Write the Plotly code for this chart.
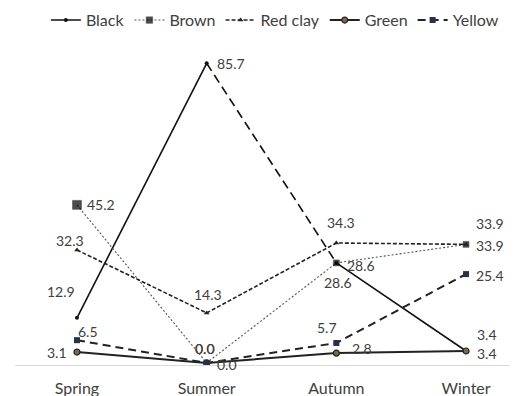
import plotly.graph_objects as go

seasons = ["Spring", "Summer", "Autumn", "Winter"]
black = [12.9, 85.7, 28.6, 3.4]
brown = [45.2, 0.0, 28.6, 33.9]
red_clay = [32.3, 14.3, 34.3, 33.9]
green = [3.1, 0.0, 2.8, 3.4]
yellow = [6.5, 0.0, 5.7, 25.4]

FONT = "Lato, Carlito, 'Open Sans', sans-serif"
TXT = "#404040"

fig = go.Figure()

# Black (segments drawn with the styles seen in the chart)
fig.add_trace(go.Scatter(x=seasons[0:2], y=black[0:2], mode="lines+markers", name="Black",
                         legendgroup="black",
                         line=dict(color="#111111", width=1.6),
                         marker=dict(symbol="circle", size=4, color="#111111")))
fig.add_trace(go.Scatter(x=seasons[1:3], y=black[1:3], mode="lines", name="Black",
                         legendgroup="black", showlegend=False,
                         line=dict(color="#111111", width=1.6, dash="9px,5px")))
fig.add_trace(go.Scatter(x=seasons[2:4], y=black[2:4], mode="lines+markers", name="Black",
                         legendgroup="black", showlegend=False,
                         line=dict(color="#111111", width=1.6),
                         marker=dict(symbol="circle", size=4, color="#111111")))

fig.add_trace(go.Scatter(x=seasons, y=brown, mode="lines+markers", name="Brown",
                         line=dict(color="#555555", width=1.1, dash="2px,2px"),
                         marker=dict(symbol="square", size=[9, 5, 6, 6], color="#000000",
                                     line=dict(color="#000000", width=0.5))))

fig.add_trace(go.Scatter(x=seasons, y=red_clay, mode="lines+markers", name="Red clay",
                         line=dict(color="#222222", width=1.6, dash="4px,2px"),
                         marker=dict(symbol="triangle-up", size=5, color="#222222")))

fig.add_trace(go.Scatter(x=seasons, y=green, mode="lines+markers", name="Green",
                         line=dict(color="#222222", width=2),
                         marker=dict(symbol="circle", size=6, color="#7a6a4a",
                                     line=dict(color="#222222", width=1.2))))

fig.add_trace(go.Scatter(x=seasons, y=yellow, mode="lines+markers", name="Yellow",
                         line=dict(color="#222222", width=2, dash="8px,5px"),
                         marker=dict(symbol="square", size=6, color="#26304a")))

# label offsets (dx, dy screen px, dy positive = up)
label_offsets = {
    "black": [(-16, 26), (24, 0), (25, -3), (21, 17)],
    "brown": [(24, 0), (-2, 14), (2, -20), (24, -1)],
    "red_clay": [(-7, 9), (1, 18), (5, 20), (24, 21)],
    "green": [(-20, 0), (20, -2), (26, 5), (21, -2)],
    "yellow": [(11, 9), (-2, 14), (-9, 15), (24, -1)],
}
series = {"black": black, "brown": brown, "red_clay": red_clay, "green": green, "yellow": yellow}

for key, vals in series.items():
    for xi, yi, (dx, dy) in zip(seasons, vals, label_offsets[key]):
        fig.add_annotation(x=xi, y=yi, text=f"{yi:.1f}", showarrow=False,
                           xshift=dx, yshift=dy, xanchor="center", yanchor="middle",
                           font=dict(family=FONT, size=14, color=TXT))

fig.update_layout(
    width=516, height=396,
    margin=dict(l=15, r=6, t=50, b=31, autoexpand=False),
    paper_bgcolor="white", plot_bgcolor="white",
    font=dict(family=FONT, size=16, color=TXT),
    legend=dict(orientation="h", x=0.525, xanchor="center", y=0.992, yanchor="top",
                yref="container", font=dict(family=FONT, size=16, color=TXT),
                itemwidth=30, tracegroupgap=0, bgcolor="rgba(0,0,0,0)"),
    showlegend=True,
)

fig.update_xaxes(type="category", range=[-0.478, 3.339], showline=True, linecolor="#d9d9d9",
                 linewidth=1, showgrid=False, zeroline=False, ticks="",
                 ticklabelstandoff=9, tickfont=dict(family=FONT, size=16, color=TXT))
fig.update_yaxes(range=[-0.6, 89.5], showgrid=False, zeroline=False, showticklabels=False,
                 showline=False, ticks="")

fig.write_html("out.html", config={"displayModeBar": False},
               post_script="document.body.style.margin='0';")
